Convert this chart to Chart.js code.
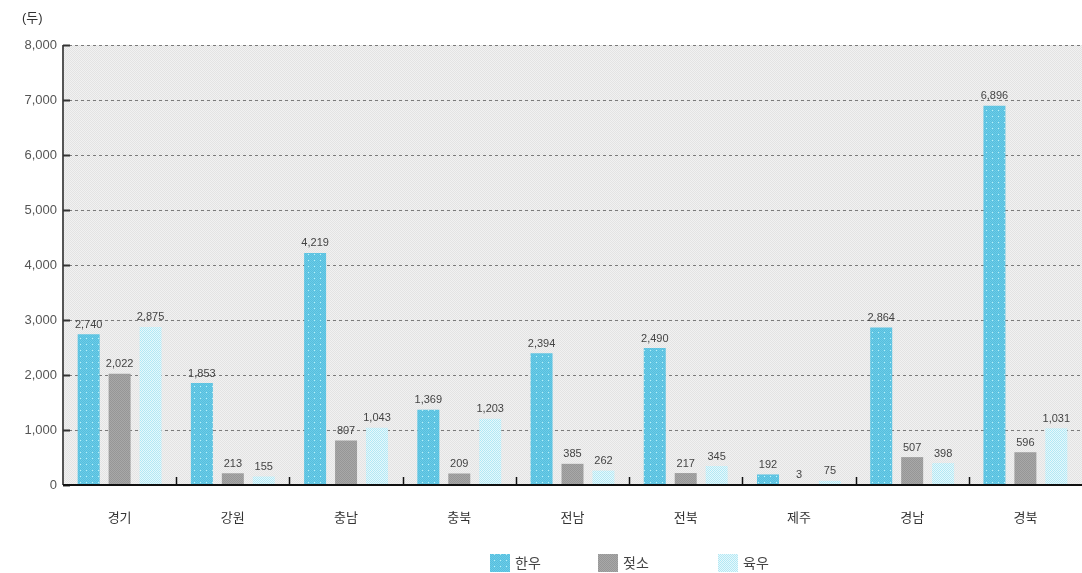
<!DOCTYPE html>
<html><head><meta charset="utf-8">
<script src="https://cdn.jsdelivr.net/npm/chart.js@4"></script>
<style>html,body{margin:0;padding:0;background:#fff}#wrap{width:1082px;height:573px;position:relative}</style>
</head><body><div id="wrap"><canvas id="c"></canvas></div>
<script>
const categories = ['경기','강원','충남','충북','전남','전북','제주','경남','경북'];
const seriesNames = ['한우','젖소','육우'];
const hanwoo = [2740, 1853, 4219, 1369, 2394, 2490, 192, 2864, 6896];
const dairy  = [2022, 213, 807, 209, 385, 217, 3, 507, 596];
const beef   = [2875, 155, 1043, 1203, 262, 345, 75, 398, 1031];
const yTickValues = [0, 1000, 2000, 3000, 4000, 5000, 6000, 7000, 8000];
const unitLabel = '(두)';

const FONT = "'Liberation Sans', 'Noto Sans CJK KR', sans-serif";

function makePattern(size, draw) {
  const c = document.createElement('canvas');
  c.width = size; c.height = size;
  const g = c.getContext('2d');
  draw(g);
  return g.createPattern(c, 'repeat');
}
function checker(a, b, dot) {
  return makePattern(6, g => {
    for (let y = 0; y < 6; y++) for (let x = 0; x < 6; x++) {
      g.fillStyle = ((x + y) % 2 === 0) ? a : b;
      g.fillRect(x, y, 1, 1);
    }
    if (dot) { g.fillStyle = dot; g.fillRect(2, 2, 1, 1); }
  });
}
const bgPattern = checker('#e3e3e3', '#f1f1f1');
const fills = [
  checker('#55bfdf', '#6dcbe6', '#b8f2fa'),
  checker('#969696', '#a8a8a8'),
  checker('#b3e8f4', '#e6f8fc')
];
const legendColors = ['#62c5e3', '#9f9f9f', '#cdeff7'];

function fmt(v) { return v.toLocaleString('en-US'); }

const decor = {
  id: 'decor',
  beforeDraw(chart) {
    const { ctx, chartArea: a } = chart;
    ctx.save();
    ctx.fillStyle = bgPattern;
    ctx.fillRect(a.left, a.top, a.right - a.left, a.bottom - a.top);
    ctx.restore();
  },
  afterDatasetsDraw(chart) {
    const { ctx, chartArea: a, scales } = chart;
    const x = scales.x, y = scales.y;
    ctx.save();
    // left axis line
    ctx.strokeStyle = '#555';
    ctx.lineWidth = 2;
    ctx.beginPath(); ctx.moveTo(a.left, a.top); ctx.lineTo(a.left, a.bottom); ctx.stroke();
    // y tick marks
    ctx.lineWidth = 2;
    ctx.strokeStyle = '#333';
    yTickValues.forEach(v => {
      const py = Math.round(y.getPixelForValue(v)) + 0.5;
      ctx.beginPath(); ctx.moveTo(a.left, py); ctx.lineTo(a.left + 7, py); ctx.stroke();
    });
    // bottom axis
    ctx.strokeStyle = '#111';
    ctx.lineWidth = 2;
    const by = y.getPixelForValue(0);
    ctx.beginPath(); ctx.moveTo(a.left, by); ctx.lineTo(a.right, by); ctx.stroke();
    // category separator ticks
    ctx.lineWidth = 1.5;
    for (let i = 1; i < categories.length; i++) {
      const px = Math.round((x.getPixelForValue(i - 1) + x.getPixelForValue(i)) / 2) + 0.5;
      ctx.beginPath(); ctx.moveTo(px, by); ctx.lineTo(px, by - 8); ctx.stroke();
    }
    // value labels
    ctx.font = '11px ' + FONT;
    ctx.fillStyle = '#444';
    ctx.textAlign = 'center';
    ctx.textBaseline = 'bottom';
    chart.data.datasets.forEach((ds, di) => {
      const meta = chart.getDatasetMeta(di);
      meta.data.forEach((bar, i) => {
        ctx.fillText(fmt(ds.data[i]), bar.x, bar.y - 4);
      });
    });
    // unit label
    ctx.font = '13px ' + FONT;
    ctx.fillStyle = '#333';
    ctx.textAlign = 'left';
    ctx.textBaseline = 'middle';
    ctx.fillText(unitLabel, 22, 18);
    // legend
    const lx = [490, 598, 718];
    seriesNames.forEach((n, i) => {
      ctx.fillStyle = fills[i];
      ctx.fillRect(lx[i], 554, 20, 18);
      ctx.fillStyle = '#444';
      ctx.font = '14px ' + FONT;
      ctx.textBaseline = 'middle';
      ctx.fillText(n, lx[i] + 25, 564);
    });
    ctx.restore();
  }
};

const seriesData = [hanwoo, dairy, beef];
new Chart(document.getElementById('c'), {
  type: 'bar',
  data: {
    labels: categories,
    datasets: seriesNames.map((n, i) => ({
      label: n,
      data: seriesData[i],
      backgroundColor: fills[i],
      borderWidth: 0,
      barPercentage: 0.71,
      categoryPercentage: 0.82
    }))
  },
  options: {
    responsive: true,
    maintainAspectRatio: false,
    animation: false,
    layout: { padding: { top: 45, left: 0, right: 0, bottom: 0 } },
    plugins: { legend: { display: false }, tooltip: { enabled: false } },
    scales: {
      x: {
        grid: { display: false, drawTicks: false },
        border: { display: false },
        ticks: { padding: 26, color: '#333', font: { family: FONT, size: 13 } },
        afterFit(s) { s.height = 88; }
      },
      y: {
        min: 0, max: 8000,
        afterBuildTicks(s) { s.ticks = yTickValues.map(v => ({ value: v })); },
        grid: { color: '#7a7a7a', lineWidth: 1, drawTicks: false, tickBorderDash: [], },
        border: { display: false, dash: [3, 3] },
        ticks: { padding: 6, color: '#555', font: { family: FONT, size: 13 }, callback: v => fmt(v) },
        afterFit(s) { s.width = 63; }
      }
    }
  },
  plugins: [decor]
});
</script></body></html>
